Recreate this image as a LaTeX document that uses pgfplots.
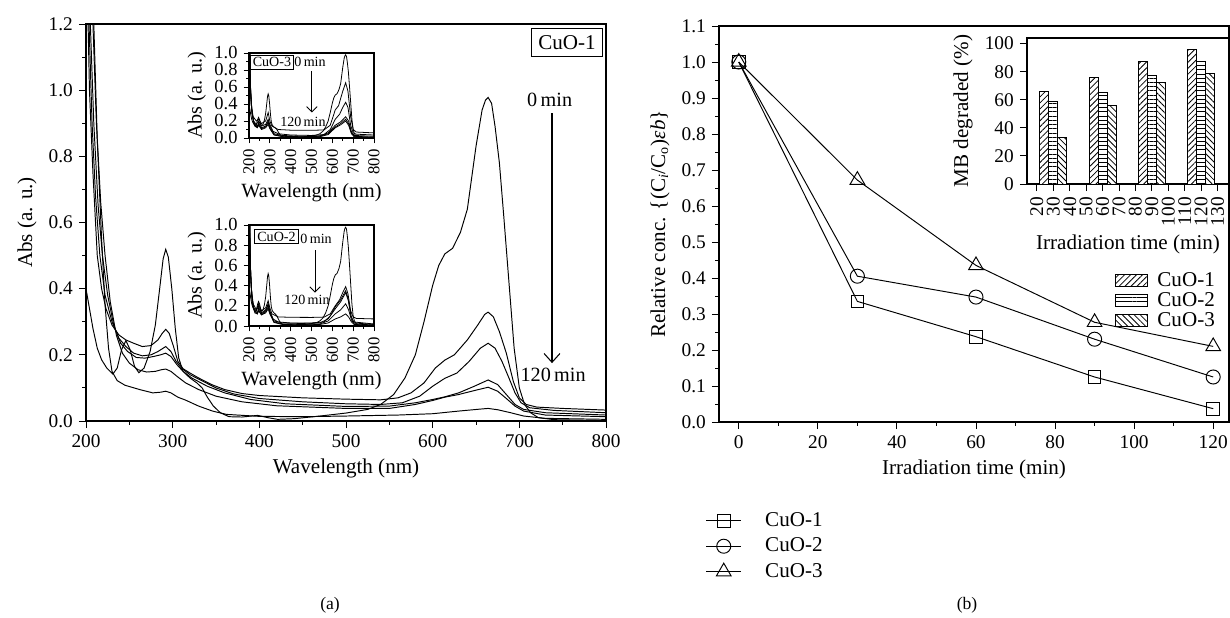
\documentclass[border=0pt]{standalone}
\usepackage{fontspec}
\setmainfont{Liberation Serif}
\usepackage{pgfplots}
\usepackage{pgfplotstable}
\pgfplotsset{compat=1.18}
\usetikzlibrary{patterns.meta,arrows.meta}

% 0 min spectrum of MB (same in main plot and insets)
\pgfplotstableread{
wl a
200 0.400
204 0.340
208 0.280
213 0.220
218 0.185
224 0.160
231 0.142
236 0.160
241 0.215
246 0.243
251 0.215
256 0.165
261 0.146
267 0.160
274 0.210
280 0.290
285 0.400
289 0.490
292 0.519
295 0.495
299 0.400
303 0.280
307 0.190
312 0.150
320 0.130
328 0.115
334 0.100
340 0.072
347 0.045
355 0.025
365 0.013
380 0.012
398 0.017
410 0.010
421 0.005
440 0.007
470 0.015
500 0.024
525 0.035
540 0.050
555 0.080
568 0.130
580 0.200
590 0.300
600 0.410
607 0.470
614 0.505
623 0.522
632 0.570
640 0.640
650 0.830
657 0.940
661 0.970
664 0.978
668 0.960
672 0.890
677 0.780
682 0.620
688 0.420
694 0.220
700 0.100
706 0.050
713 0.025
722 0.010
740 0.004
800 0.001
}\tzero

\pgfplotsset{
  myaxis/.style={
    scale only axis, anchor=south west,
    axis line style={line width=0.7pt},
    major tick length=4pt, minor tick length=2.2pt,
    every tick/.style={black, line width=0.5pt},
    tick align=outside, tick pos=left,
    /pgf/number format/assume math mode=true,
    tick label style={font=\fontsize{11}{13}\selectfont},
    label style={font=\fontsize{12}{14}\selectfont},
  },
  oneprec/.style={yticklabel style={/pgf/number format/fixed, /pgf/number format/fixed zerofill, /pgf/number format/precision=1}},
  curve/.style={black, line width=0.55pt, no markers},
  inset/.style={myaxis, width=2.5cm, xmin=200, xmax=800, ymin=0, ymax=1.0,
    xtick={200,300,...,800}, minor x tick num=1,
    ytick={0,0.2,0.4,0.6,0.8,1.0}, minor y tick num=1, oneprec,
    y tick label style={font=\fontsize{10.5}{11}\selectfont},
    x tick label style={font=\fontsize{9.5}{11}\selectfont, rotate=90, anchor=east},
    major tick length=3pt, minor tick length=1.6pt,
    xlabel={Wavelength (nm)}, ylabel={Abs (a. u.)},
    label style={font=\fontsize{11.5}{13}\selectfont},
    xlabel style={yshift=2pt}, ylabel style={yshift=-2pt}},
}

\begin{document}
\begin{tikzpicture}
\path[use as bounding box] (0,0) rectangle (24.6cm,12.36cm);

% ---------------- (a) main spectra, CuO-1
\begin{axis}[myaxis, at={(1.72cm,3.94cm)}, width=10.4cm, height=7.94cm,
  xmin=200, xmax=800, ymin=0, ymax=1.2,
  xtick={200,300,...,800}, minor x tick num=1,
  ytick={0,0.2,0.4,0.6,0.8,1.0,1.2}, minor y tick num=1, oneprec,
  xlabel={Wavelength (nm)}, ylabel={Abs (a. u.)}]
\addplot[curve] table[x=wl,y=a]{\tzero};
\addplot[curve] coordinates {(200,1.5)(204,1.0)(208,0.75)(213,0.5)(218,0.4)(223,0.34)(230,0.29)(238,0.26)(246,0.245)(255,0.235)(265,0.225)(275,0.228)(283,0.245)(288,0.265)(292,0.277)(296,0.265)(301,0.225)(306,0.18)(312,0.158)(320,0.145)(330,0.13)(345,0.11)(360,0.095)(380,0.083)(400,0.077)(450,0.07)(500,0.066)(540,0.064)(560,0.07)(575,0.085)(590,0.115)(603,0.16)(614,0.184)(625,0.2)(640,0.245)(652,0.29)(660,0.322)(664,0.329)(670,0.315)(677,0.27)(685,0.205)(693,0.12)(700,0.07)(708,0.05)(720,0.042)(750,0.038)(800,0.033)};
\addplot[curve] coordinates {(200,1.7)(203.5,1.2)(207,0.9)(211,0.68)(216,0.5)(222,0.38)(230,0.3)(238,0.25)(246,0.225)(255,0.205)(265,0.197)(275,0.2)(283,0.21)(292,0.225)(298,0.21)(304,0.18)(310,0.16)(320,0.14)(335,0.12)(350,0.1)(370,0.082)(400,0.068)(450,0.058)(500,0.052)(540,0.05)(565,0.055)(585,0.075)(600,0.105)(614,0.129)(628,0.145)(642,0.18)(655,0.22)(664,0.235)(672,0.22)(680,0.18)(688,0.13)(695,0.085)(702,0.055)(712,0.04)(740,0.032)(800,0.025)};
\addplot[curve] coordinates {(200,2.0)(205,1.2)(209,0.9)(214,0.65)(219,0.5)(225,0.38)(232,0.29)(240,0.235)(248,0.21)(258,0.192)(268,0.19)(278,0.195)(286,0.2)(292,0.205)(298,0.195)(305,0.17)(312,0.15)(322,0.13)(340,0.105)(360,0.085)(390,0.065)(430,0.052)(500,0.044)(550,0.045)(580,0.055)(600,0.065)(614,0.073)(630,0.085)(648,0.105)(664,0.124)(675,0.11)(685,0.08)(695,0.05)(705,0.035)(730,0.025)(800,0.018)};
\addplot[curve] coordinates {(200,2.2)(208,1.2)(212,0.9)(217,0.66)(222,0.5)(228,0.36)(235,0.26)(242,0.205)(250,0.175)(260,0.155)(270,0.148)(280,0.15)(287,0.155)(292,0.157)(298,0.15)(305,0.135)(315,0.115)(330,0.095)(350,0.075)(380,0.058)(420,0.046)(500,0.038)(550,0.038)(580,0.05)(600,0.062)(614,0.072)(630,0.08)(648,0.092)(664,0.102)(675,0.09)(685,0.068)(695,0.045)(705,0.03)(730,0.018)(800,0.013)};
\addplot[curve] coordinates {(200,2.4)(209,1.2)(213,0.85)(218,0.55)(222,0.35)(226,0.22)(230,0.15)(236,0.122)(245,0.108)(262,0.095)(277,0.085)(286,0.087)(292,0.09)(298,0.085)(306,0.072)(315,0.063)(330,0.045)(346,0.03)(362,0.02)(400,0.014)(450,0.013)(500,0.015)(560,0.018)(600,0.022)(630,0.03)(655,0.036)(664,0.038)(675,0.034)(690,0.025)(705,0.015)(730,0.008)(800,0.005)};
\node[draw, line width=0.6pt, inner sep=4pt, font=\fontsize{12}{14}\selectfont] at (755,1.143) {CuO-1};
\node[font=\fontsize{11.5}{13}\selectfont] at (735,0.97) {0\,min};
\draw[line width=0.6pt, -{Straight Barb[length=5pt,width=9pt]}] (737.7,0.93) -- (737.7,0.175);
\node[font=\fontsize{11.5}{13}\selectfont] at (739,0.139) {120\,min};
\end{axis}

% ---------------- inset CuO-3
\begin{axis}[inset, at={(4.98cm,9.6cm)}, height=1.7cm]
\addplot[curve, line width=0.45pt] table[x=wl,y=a]{\tzero};
\addplot[curve, line width=0.45pt] coordinates {(200,1.6)(204,0.8)(210,0.4)(220,0.25)(235,0.2)(246,0.22)(260,0.17)(280,0.2)(292,0.3)(300,0.2)(310,0.14)(340,0.1)(400,0.092)(500,0.09)(560,0.095)(590,0.15)(614,0.33)(630,0.38)(650,0.55)(664,0.65)(675,0.55)(688,0.25)(700,0.1)(715,0.07)(800,0.06)};
\addplot[curve, line width=0.45pt] coordinates {(200,1.6)(205,0.7)(212,0.35)(222,0.2)(235,0.16)(246,0.2)(260,0.14)(280,0.16)(292,0.22)(300,0.16)(315,0.08)(340,0.05)(400,0.035)(500,0.03)(560,0.04)(590,0.1)(614,0.22)(635,0.28)(650,0.36)(664,0.42)(675,0.36)(688,0.15)(700,0.06)(715,0.045)(800,0.035)};
\addplot[curve, line width=0.45pt] coordinates {(200,1.6)(206,0.6)(214,0.3)(225,0.17)(240,0.14)(246,0.18)(260,0.12)(280,0.14)(292,0.2)(300,0.14)(320,0.05)(360,0.03)(450,0.02)(540,0.025)(580,0.06)(614,0.15)(640,0.19)(664,0.25)(678,0.2)(692,0.07)(705,0.03)(800,0.02)};
\addplot[curve, line width=0.45pt] coordinates {(200,1.6)(207,0.6)(215,0.28)(226,0.15)(240,0.13)(246,0.16)(260,0.11)(280,0.13)(292,0.18)(300,0.12)(320,0.04)(360,0.02)(450,0.015)(540,0.02)(580,0.05)(614,0.13)(640,0.17)(664,0.22)(678,0.17)(692,0.06)(705,0.02)(800,0.01)};
\addplot[curve, line width=0.45pt] coordinates {(200,1.6)(208,0.55)(216,0.25)(228,0.14)(240,0.12)(246,0.15)(260,0.1)(280,0.12)(292,0.16)(300,0.11)(320,0.035)(360,0.015)(450,0.01)(540,0.015)(580,0.04)(614,0.12)(640,0.155)(664,0.2)(678,0.15)(692,0.05)(705,0.015)(800,0.005)};
\node[draw, fill=white, line width=0.5pt, inner sep=1.5pt, font=\fontsize{8}{9}\selectfont] at (310,0.89) {CuO-3};
\node[font=\fontsize{8}{9}\selectfont] at (493,0.89) {0\,min};
\draw[line width=0.5pt, -{Straight Barb[length=3pt,width=6pt]}] (502,0.79) -- (502,0.30);
\node[font=\fontsize{8}{9}\selectfont] at (459,0.19) {120\,min};
\end{axis}

% ---------------- inset CuO-2
\begin{axis}[inset, at={(4.98cm,5.84cm)}, height=2.02cm]
\addplot[curve, line width=0.45pt] table[x=wl,y=a]{\tzero};
\addplot[curve, line width=0.45pt] coordinates {(200,1.6)(204,0.8)(210,0.4)(220,0.22)(235,0.16)(246,0.22)(260,0.15)(280,0.18)(292,0.25)(300,0.18)(310,0.12)(340,0.09)(400,0.086)(500,0.085)(560,0.088)(590,0.12)(614,0.2)(635,0.26)(652,0.34)(664,0.39)(675,0.32)(688,0.15)(700,0.09)(715,0.075)(800,0.07)};
\addplot[curve, line width=0.45pt] coordinates {(200,1.6)(205,0.7)(212,0.33)(222,0.18)(235,0.15)(246,0.2)(260,0.13)(280,0.16)(292,0.22)(300,0.15)(315,0.07)(340,0.04)(400,0.03)(500,0.03)(560,0.04)(590,0.1)(614,0.19)(640,0.26)(664,0.35)(676,0.27)(690,0.1)(702,0.04)(800,0.02)};
\addplot[curve, line width=0.45pt] coordinates {(200,1.6)(206,0.6)(214,0.28)(225,0.16)(240,0.13)(246,0.18)(260,0.12)(280,0.15)(292,0.21)(300,0.14)(320,0.05)(360,0.03)(450,0.025)(540,0.03)(580,0.07)(614,0.17)(640,0.24)(664,0.33)(677,0.25)(690,0.09)(705,0.03)(800,0.015)};
\addplot[curve, line width=0.45pt] coordinates {(200,1.6)(207,0.55)(215,0.25)(226,0.15)(240,0.12)(246,0.16)(260,0.11)(280,0.14)(292,0.19)(300,0.13)(320,0.04)(360,0.02)(450,0.015)(540,0.02)(580,0.05)(614,0.12)(640,0.16)(664,0.22)(678,0.16)(692,0.06)(705,0.02)(800,0.01)};
\addplot[curve, line width=0.45pt] coordinates {(200,1.6)(208,0.5)(216,0.22)(228,0.13)(240,0.12)(246,0.15)(260,0.11)(280,0.13)(292,0.17)(300,0.12)(320,0.035)(360,0.015)(450,0.01)(540,0.015)(580,0.03)(614,0.07)(640,0.09)(664,0.12)(678,0.09)(692,0.04)(705,0.015)(800,0.005)};
\node[draw, fill=white, line width=0.5pt, inner sep=1.5pt, font=\fontsize{8}{9}\selectfont] at (332,0.886) {CuO-2};
\node[font=\fontsize{8}{9}\selectfont] at (522,0.86) {0\,min};
\draw[line width=0.5pt, -{Straight Barb[length=3pt,width=6pt]}] (517,0.75) -- (517,0.33);
\node[font=\fontsize{8}{9}\selectfont] at (478,0.257) {120\,min};
\end{axis}

% ---------------- (b) relative concentration
\begin{axis}[myaxis, at={(14.38cm,3.92cm)}, width=10.2cm, height=7.92cm,
  xmin=-5, xmax=124, ymin=0, ymax=1.1,
  xtick={0,20,...,120}, minor x tick num=1,
  ytick={0,0.1,0.2,0.3,0.4,0.5,0.6,0.7,0.8,0.9,1.0,1.1}, minor y tick num=1, oneprec,
  xlabel={Irradiation time (min)},
  ylabel={Relative conc. \{(C\textsubscript{\textit{i}}/C\textsubscript{o})\textit{εb}\}},
  legend cell align=left,
  legend image code/.code={\draw[#1, mark repeat=2, mark phase=2] plot coordinates {(0cm,0cm) (0.35cm,0cm) (0.7cm,0cm)};},
  legend style={draw=none, fill=none, at={(-0.037,-0.21)}, anchor=north west,
    font=\fontsize{12}{14}\selectfont, row sep=1pt,
    /tikz/every odd column/.append style={column sep=0.4cm}}]
\addplot[black, line width=0.55pt, mark=square, mark size=3.6pt, mark options={fill=white}]
  coordinates {(0,1.0)(30,0.335)(60,0.237)(90,0.125)(120,0.037)};
\addlegendentry{CuO-1}
\addplot[black, line width=0.55pt, mark=o, mark size=4pt, mark options={fill=white}]
  coordinates {(0,1.0)(30,0.405)(60,0.347)(90,0.23)(120,0.125)};
\addlegendentry{CuO-2}
\addplot[black, line width=0.55pt, mark=triangle, mark size=4.8pt, mark options={fill=white}]
  coordinates {(0,1.0)(30,0.672)(60,0.435)(90,0.277)(120,0.21)};
\addlegendentry{CuO-3}
\end{axis}

% ---------------- (b) inset bars
\begin{axis}[myaxis, at={(20.54cm,8.68cm)}, width=4.04cm, height=2.92cm,
  xmin=14, xmax=137, ymin=0, ymax=104,
  ybar=0pt, bar width=0.18cm,
  xtick={20,30,...,130}, ytick={0,20,...,100},
  x tick label style={rotate=90, anchor=east},
  xlabel={Irradiation time (min)}, ylabel={MB degraded (\%)},
  xlabel style={yshift=2pt},
  legend cell align=left,
  legend image code/.code={\draw[#1] (0cm,-0.11cm) rectangle (0.64cm,0.13cm);},
  legend style={draw=none, fill=none, at={(0.975,-0.555)}, anchor=north east,
    font=\fontsize{12}{14}\selectfont, row sep=-2pt,
    /tikz/every odd column/.append style={column sep=0.12cm}}]
\addplot[draw=black, fill=white, line width=0.5pt, postaction={pattern={Lines[angle=45,distance=2.4pt,line width=0.45pt]}}]
  coordinates {(30,66)(60,76)(90,87)(120,96)};
\addlegendentry{CuO-1}
\addplot[draw=black, fill=white, line width=0.5pt, postaction={pattern={Lines[angle=0,distance=2.4pt,line width=0.45pt]}}]
  coordinates {(30,59)(60,65)(90,77)(120,87)};
\addlegendentry{CuO-2}
\addplot[draw=black, fill=white, line width=0.5pt, postaction={pattern={Lines[angle=-45,distance=2.4pt,line width=0.45pt]}}]
  coordinates {(30,33)(60,56)(90,72)(120,79)};
\addlegendentry{CuO-3}
\end{axis}

\node[font=\fontsize{10}{12}\selectfont] at (6.6cm,0.26cm) {(a)};
\node[font=\fontsize{10}{12}\selectfont] at (19.34cm,0.26cm) {(b)};
\end{tikzpicture}
\end{document}
